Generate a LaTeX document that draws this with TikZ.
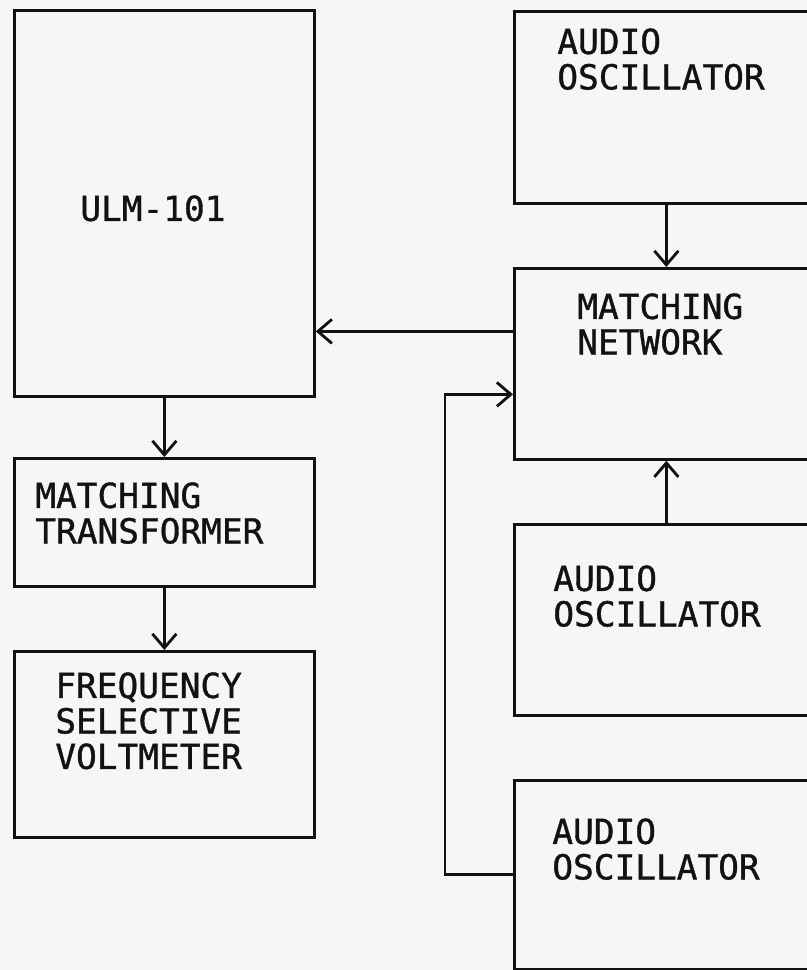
\documentclass[tikz,border=0pt]{standalone}
\usepackage{fontspec}
\newfontfamily\plotfont[FakeBold=1.0]{DejaVu Sans Mono}
\usetikzlibrary{positioning, arrows.meta, calc}
\definecolor{paper}{RGB}{246,246,245}
\definecolor{ink}{RGB}{18,18,18}

\begin{document}
\begin{tikzpicture}[x=0.02cm, y=-0.02cm,
        font=\plotfont\fontsize{19.6}{20.2}\selectfont,
        b/.style={rectangle, draw=ink, line width=1.6pt, anchor=north west, inner sep=0pt},
        t/.style={align=left, inner sep=0pt, text=ink},
        arr/.style={-{Straight Barb[length=0.28cm, width=0.48cm, line width=1.6pt]}, line width=1.6pt, draw=ink}
    ]
    \clip (0,0) rectangle (807,970);
    \fill[paper] (0,0) rectangle (807,970);
    \node[b, minimum width=6.0cm, minimum height=7.72cm] (ulm) at (13,9) {};
    \node[b, minimum width=6.0cm, minimum height=2.56cm] (trans) at (13,457) {};
    \node[b, minimum width=6.0cm, minimum height=3.72cm] (meter) at (13,650) {};
    \node[b, minimum width=6.08cm, minimum height=3.84cm] (osca) at (513,10) {};
    \node[b, minimum width=6.08cm, minimum height=3.82cm] (net) at (513,267) {};
    \node[b, minimum width=6.08cm, minimum height=3.82cm] (oscb) at (513,523) {};
    \node[b, minimum width=6.08cm, minimum height=3.78cm] (oscc) at (513,779) {};
    \node[t, below right=3.72cm and 1.34cm of ulm.north west] (ulmtxt) {ULM-101};
    \node[t, below right=0.50cm and 0.44cm of trans.north west] (transtxt) {MATCHING\\TRANSFORMER};
    \node[t, below right=0.44cm and 0.84cm of meter.north west] (metertxt) {FREQUENCY\\SELECTIVE\\VOLTMETER};
    \node[t, below right=0.36cm and 0.88cm of osca.north west] (oscatxt) {AUDIO\\OSCILLATOR};
    \node[t, below right=0.52cm and 1.28cm of net.north west] (nettxt) {MATCHING\\NETWORK};
    \node[t, below right=0.84cm and 0.80cm of oscb.north west] (oscbtxt) {AUDIO\\OSCILLATOR};
    \node[t, below right=0.78cm and 0.78cm of oscc.north west] (oscctxt) {AUDIO\\OSCILLATOR};
    \draw[arr] (osca.south) -- (net.north);
    \draw[arr] (oscb.north) -- (net.south);
    \draw[arr] ([yshift=0.65cm]net.west) -- ([yshift=0.65cm]net.west -| ulm.east);
    \draw[arr] (oscc.west) -- ++(-1.36cm,0) |- ([yshift=-0.61cm]net.west);
    \draw[arr] (ulm.south) -- (trans.north);
    \draw[arr] (trans.south) -- (meter.north);
    \end{tikzpicture}
\end{document}
